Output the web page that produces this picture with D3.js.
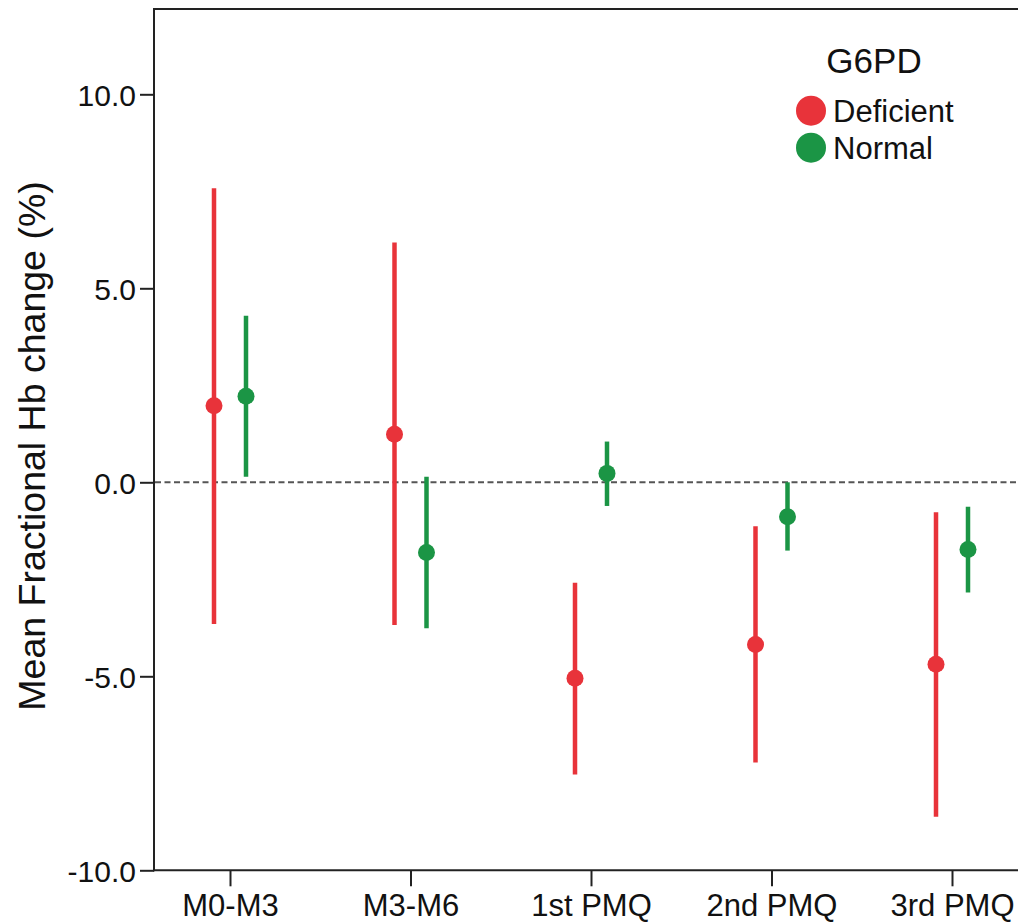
<!DOCTYPE html>
<html>
<head>
<meta charset="utf-8">
<script src="https://cdn.jsdelivr.net/npm/d3@7"></script>
<style>
  html, body { margin: 0; padding: 0; background: #fff; }
  svg { display: block; font-family: "Liberation Sans", Arial, Helvetica, sans-serif; }
</style>
</head>
<body>
<svg id="chart" width="1018" height="922"></svg>
<script>
// ---- data ----
const categories = ["M0-M3", "M3-M6", "1st PMQ", "2nd PMQ", "3rd PMQ"];
const groups = ["Deficient", "Normal"];
const deficientMean  = [1.97, 1.24, -5.05, -4.18, -4.69];
const deficientLower = [-3.65, -3.68, -7.53, -7.22, -8.62];
const deficientUpper = [7.58, 6.18, -2.59, -1.13, -0.77];
const normalMean  = [2.22, -1.81, 0.23, -0.89, -1.73];
const normalLower = [0.14, -3.76, -0.61, -1.76, -2.84];
const normalUpper = [4.29, 0.14, 1.05, 0.0, -0.63];
const yTicks = [-10, -5, 0, 5, 10];
const legendTitle = "G6PD";
const yTitle = "Mean Fractional Hb change (%)";

const colors = { Deficient: "#e8333a", Normal: "#1b9545" };
const offsets = { Deficient: -16, Normal: 16 };

const series = [
  { group: "Deficient", mean: deficientMean, lo: deficientLower, hi: deficientUpper },
  { group: "Normal", mean: normalMean, lo: normalLower, hi: normalUpper }
];
const points = [];
series.forEach(s => categories.forEach((c, i) => points.push({
  group: s.group, cat: c, mean: s.mean[i], lo: s.lo[i], hi: s.hi[i]
})));

// ---- scales ----
const svg = d3.select("#chart");
const axisX = 154, axisBottom = 870.3;
const pxPerUnit = 38.8;
const yMin = -10, yMax = 12.2;
const y = d3.scaleLinear().domain([yMin, yMax])
  .range([axisBottom, axisBottom - (yMax - yMin) * pxPerUnit]);
const x = d3.scalePoint().domain(categories).range([230, 952]);

const frameTop = y(yMax);

// frame lines
svg.append("line").attr("x1", axisX).attr("x2", 1030).attr("y1", frameTop).attr("y2", frameTop)
  .attr("stroke", "#222").attr("stroke-width", 2);
svg.append("line").attr("x1", axisX).attr("x2", axisX).attr("y1", frameTop - 1).attr("y2", axisBottom + 1)
  .attr("stroke", "#222").attr("stroke-width", 2);
svg.append("line").attr("x1", axisX - 1).attr("x2", 1030).attr("y1", axisBottom).attr("y2", axisBottom)
  .attr("stroke", "#222").attr("stroke-width", 2);

// y axis
const yAxis = d3.axisLeft(y).tickValues(yTicks).tickFormat(d => d.toFixed(1)).tickSize(14).tickPadding(4);
const gy = svg.append("g").attr("transform", `translate(${axisX},0)`).call(yAxis);
gy.select(".domain").remove();
gy.selectAll(".tick line").attr("stroke", "#222").attr("stroke-width", 2);
gy.selectAll(".tick text").attr("font-size", 30).attr("fill", "#111")
  .attr("font-family", "Liberation Sans, Arial, sans-serif").attr("dy", "0.36em");

// x axis
const xAxis = d3.axisBottom(x).tickSize(16).tickPadding(6);
const gx = svg.append("g").attr("transform", `translate(0,${axisBottom})`).call(xAxis);
gx.select(".domain").remove();
gx.selectAll(".tick line").attr("stroke", "#222").attr("stroke-width", 2);
gx.selectAll(".tick text").attr("font-size", 31).attr("fill", "#111")
  .attr("font-family", "Liberation Sans, Arial, sans-serif").attr("dy", "0.75em");

// zero reference line
svg.append("line").attr("x1", axisX + 1).attr("x2", 1030).attr("y1", y(0)).attr("y2", y(0))
  .attr("stroke", "#555").attr("stroke-width", 2).attr("stroke-dasharray", "6,3.5");

// y title
svg.append("text").attr("transform", `translate(45,446) rotate(-90)`)
  .attr("text-anchor", "middle").attr("font-size", 37.5).attr("fill", "#111").text(yTitle);

// error bars
const g = svg.append("g");
g.selectAll("line.err").data(points).join("line").attr("class", "err")
  .attr("x1", d => x(d.cat) + offsets[d.group]).attr("x2", d => x(d.cat) + offsets[d.group])
  .attr("y1", d => y(d.hi)).attr("y2", d => y(d.lo))
  .attr("stroke", d => colors[d.group]).attr("stroke-width", 4.5);
g.selectAll("circle.pt").data(points).join("circle").attr("class", "pt")
  .attr("cx", d => x(d.cat) + offsets[d.group]).attr("cy", d => y(d.mean))
  .attr("r", 8.5).attr("fill", d => colors[d.group]);

// legend
const lg = svg.append("g");
lg.append("text").attr("x", 874).attr("y", 72.7).attr("text-anchor", "middle")
  .attr("font-size", 35).attr("fill", "#111").text(legendTitle);
groups.forEach((grp, i) => {
  const cy = 110.7 + i * 37;
  lg.append("circle").attr("cx", 811).attr("cy", cy).attr("r", 15).attr("fill", colors[grp]);
  lg.append("text").attr("x", 833).attr("y", cy + 11).attr("font-size", 31).attr("fill", "#111").text(grp);
});
</script>
</body>
</html>
